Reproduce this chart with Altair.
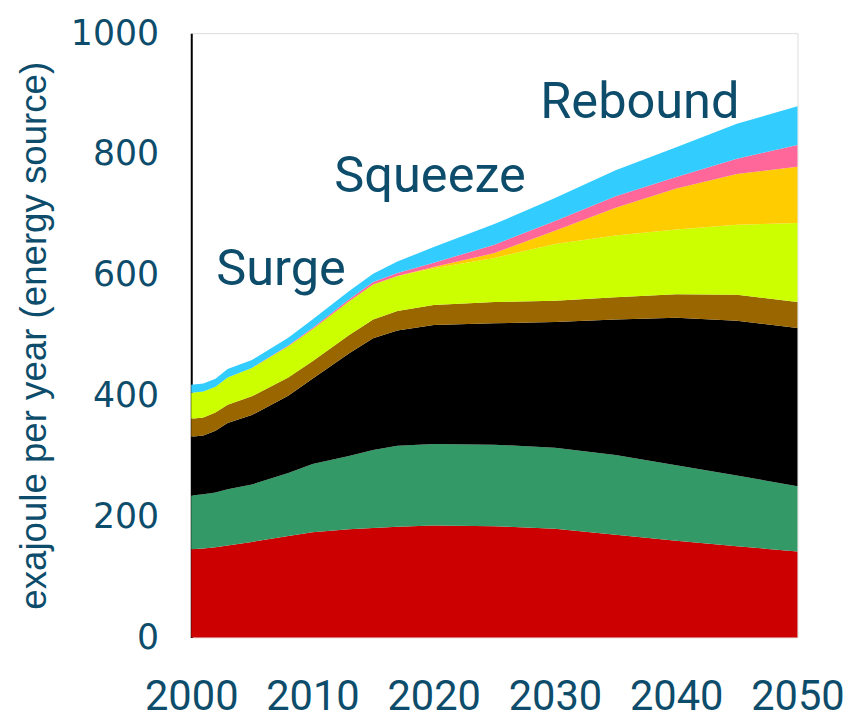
import altair as alt
import pandas as pd

# ---- data ----
years = [2000, 2001, 2002, 2003, 2005, 2008, 2010, 2013, 2015, 2017, 2020, 2025, 2030, 2035, 2040, 2045, 2050]
oil = [146, 147, 149, 152, 158, 168, 174, 179, 181, 183, 185, 184, 180, 170, 160, 151, 142]
gas = [89, 90, 91, 93, 95, 104, 113, 121, 129, 134, 135, 135, 134, 132, 125, 117, 108]
coal = [97, 97, 102, 110, 115, 128, 141, 170, 185, 191, 197, 201, 208, 224, 244, 256, 262]
nuclear = [30, 30, 30, 30, 31, 30, 29, 30, 31, 32, 33, 35, 35, 37, 39, 43, 43]
biomass = [43, 43, 43, 45, 47, 52, 53, 56, 58, 58, 61, 73, 94, 102, 107, 116, 131]
solar = [0, 0, 0, 0, 0, 0, 0, 0, 0, 0, 2, 8, 22, 46, 68, 84, 93]
wind = [0, 0, 0, 0, 0, 1, 2, 3, 4, 5, 7, 14, 16, 19, 19, 25, 36]
other = [13, 13, 13, 14, 13, 13, 14, 14, 14, 19, 26, 34, 38, 43, 49, 58, 64]

sources = ["Oil", "Gas", "Coal", "Nuclear", "Biomass", "Solar", "Wind", "Other renewables"]
colors = ["#cc0000", "#339966", "#000000", "#996600", "#ccff00", "#ffcc00", "#ff6699", "#33ccff"]
series = [oil, gas, coal, nuclear, biomass, solar, wind, other]

ann_text = ["Surge", "Squeeze", "Rebound"]
ann_year = [2007.4, 2019.7, 2037.0]
ann_value = [607, 762, 885]

x_ticks = [2000, 2010, 2020, 2030, 2040, 2050]
y_ticks = [0, 200, 400, 600, 800, 1000]

rows = []
for i, (name, vals) in enumerate(zip(sources, series)):
    for y, v in zip(years, vals):
        rows.append({"year": y, "value": v, "source": name, "idx": i})
df = pd.DataFrame(rows)
ann = pd.DataFrame({"text": ann_text, "year": ann_year, "value": ann_value})

TEXT = "#0d4d6b"
NARROW = "Roboto, sans-serif"

xscale = alt.Scale(domain=[2000, 2050], nice=False, zero=False)
yscale = alt.Scale(domain=[0, 1000], nice=False)

areas = alt.Chart(df).mark_area(interpolate="linear").encode(
    x=alt.X("year:Q", scale=xscale,
            axis=alt.Axis(values=x_ticks, format="d", title=None, grid=False, ticks=False,
                          domain=False, labelFont=NARROW, labelFontSize=42,
                          labelColor=TEXT, labelPadding=40, labelFlush=False)),
    y=alt.Y("value:Q", stack="zero", scale=yscale,
            axis=alt.Axis(values=y_ticks, format="d", title="exajoule per  year (energy source)",
                          grid=False, ticks=False, domain=True, domainColor="#000000",
                          domainWidth=2, labelFont="DejaVu Sans", labelFontSize=35,
                          labelColor=TEXT, labelPadding=33, labelFlush=False,
                          titleFont="Liberation Sans", titleFontSize=37,
                          titleFontWeight="normal", titleColor=TEXT,
                          titleX=-158, titleY=305, titleAngle=-90,
                          titleAlign="center", titleBaseline="middle")),
    color=alt.Color("source:N", scale=alt.Scale(domain=sources, range=colors), legend=None),
    order=alt.Order("idx:Q", sort="ascending"),
)

labels = alt.Chart(ann).mark_text(font=NARROW, fontSize=51, color=TEXT,
                                  align="center", baseline="middle").encode(
    x=alt.X("year:Q", scale=xscale),
    y=alt.Y("value:Q", scale=yscale),
    text="text:N",
)

chart = alt.layer(areas, labels).properties(
    width=612, height=610,
    padding={"left": 185, "top": 22, "right": 50, "bottom": 80},
    autosize=alt.AutoSizeParams(type="none"),
).configure_view(stroke="#8c8c8c", strokeWidth=1.5).configure(background="white")

chart.save("out.html", embed_options={"renderer": "svg", "actions": False})
